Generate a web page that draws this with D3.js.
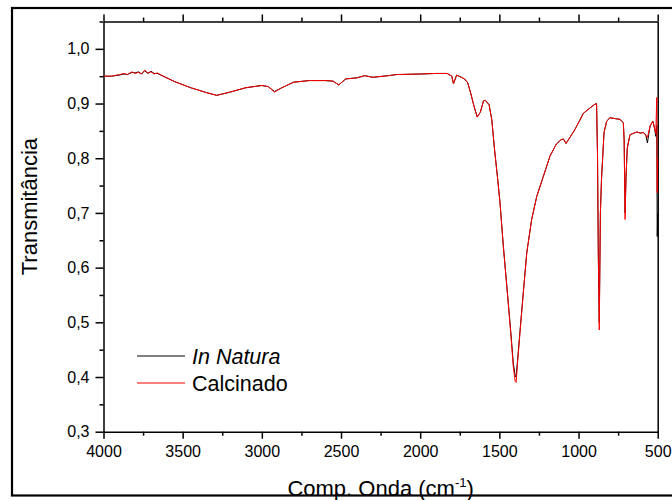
<!DOCTYPE html>
<html>
<head>
<meta charset="utf-8">
<script src="https://cdn.jsdelivr.net/npm/d3@7"></script>
<style>
    html, body { margin: 0; padding: 0; background: #fff; }
    svg { display: block; font-family: "Liberation Sans", Arial, sans-serif; }
    .axis path, .axis line { stroke: #000; stroke-width: 1.5; }
    .axis text { fill: #000; font-size: 16px; }
</style>
</head>
<body>
<svg id="chart" width="672" height="500"></svg>
<script>
// Numero de onda (cm-1)
const waveNumbers = [
    4000, 3950, 3900, 3870, 3850, 3820, 3800, 3780, 3760, 3740, 3720, 3700, 3680, 3660, 3630,
    3550, 3450, 3350, 3285, 3200, 3100, 3000, 2960, 2920, 2880, 2800, 2700, 2600, 2550, 2515,
    2470, 2400, 2350, 2300, 2200, 2150, 2000, 1900, 1830, 1800, 1790, 1770, 1740, 1720, 1700,
    1680, 1660, 1640, 1620, 1600, 1590, 1565, 1548, 1530, 1510, 1496, 1475, 1453, 1428, 1412,
    1400, 1394, 1387, 1370, 1349, 1327, 1296, 1264, 1222, 1180, 1140, 1110, 1095, 1079, 1050,
    1022, 991, 970, 927, 900, 886, 880, 875, 869, 862, 855, 847, 839, 822, 801,
    760, 738, 717, 712, 706, 700, 692, 675, 632, 610, 590, 575, 565, 548, 531,
    520, 512, 506, 503, 500
];

// Transmitancia - In Natura (preto)
const inNatura = [
    0.950, 0.950, 0.952, 0.954, 0.953, 0.957, 0.956, 0.958, 0.954, 0.960, 0.955, 0.959, 0.955, 0.955, 0.951,
    0.940, 0.929, 0.920, 0.915, 0.921, 0.929, 0.933, 0.931, 0.922, 0.928, 0.939, 0.942, 0.942, 0.941, 0.934,
    0.945, 0.947, 0.951, 0.948, 0.951, 0.953, 0.954, 0.955, 0.955, 0.950, 0.936, 0.952, 0.948, 0.945, 0.938,
    0.918, 0.895, 0.876, 0.884, 0.905, 0.906, 0.898, 0.871, 0.815, 0.760, 0.719, 0.640, 0.567, 0.483, 0.425,
    0.402, 0.400, 0.424, 0.483, 0.554, 0.627, 0.688, 0.730, 0.767, 0.804, 0.826, 0.834, 0.835, 0.827, 0.840,
    0.853, 0.870, 0.882, 0.892, 0.898, 0.900, 0.806, 0.622, 0.500, 0.700, 0.762, 0.804, 0.847, 0.868, 0.874,
    0.872, 0.871, 0.865, 0.834, 0.700, 0.767, 0.819, 0.843, 0.848, 0.846, 0.847, 0.842, 0.828, 0.859, 0.868,
    0.855, 0.840, 0.860, 0.657, 0.700
];

// Transmitancia - Calcinado (vermelho)
const calcinado = [
    0.950, 0.950, 0.953, 0.955, 0.953, 0.958, 0.955, 0.957, 0.954, 0.961, 0.956, 0.958, 0.954, 0.956, 0.951,
    0.940, 0.929, 0.920, 0.915, 0.921, 0.929, 0.933, 0.931, 0.921, 0.928, 0.939, 0.942, 0.942, 0.941, 0.934,
    0.945, 0.947, 0.951, 0.948, 0.951, 0.953, 0.954, 0.955, 0.955, 0.950, 0.936, 0.952, 0.948, 0.945, 0.938,
    0.918, 0.895, 0.875, 0.884, 0.905, 0.906, 0.898, 0.871, 0.815, 0.760, 0.719, 0.639, 0.566, 0.480, 0.419,
    0.392, 0.390, 0.419, 0.480, 0.553, 0.627, 0.688, 0.730, 0.767, 0.804, 0.826, 0.834, 0.835, 0.827, 0.840,
    0.853, 0.870, 0.882, 0.892, 0.898, 0.900, 0.804, 0.620, 0.486, 0.700, 0.760, 0.804, 0.847, 0.868, 0.874,
    0.872, 0.871, 0.865, 0.834, 0.688, 0.767, 0.819, 0.843, 0.848, 0.846, 0.847, 0.842, 0.838, 0.859, 0.868,
    0.855, 0.845, 0.911, 0.737, 0.800
];

// Eixos
const xTicks = [4000, 3500, 3000, 2500, 2000, 1500, 1000, 500];
const xMinorTicks = [3750, 3250, 2750, 2250, 1750, 1250, 750];
const yTicks = [0.3, 0.4, 0.5, 0.6, 0.7, 0.8, 0.9, 1.0];
const yMinorTicks = [0.35, 0.45, 0.55, 0.65, 0.75, 0.85, 0.95, 1.05];

const svg = d3.select('#chart');
const plot = { left: 103.5, right: 657.7, top: 21.5, bottom: 431.7 };

const xScale = d3.scaleLinear().domain([4000, 500]).range([plot.left, plot.right]);
const yScale = d3.scaleLinear().domain([0.3, 1.05]).range([plot.bottom, plot.top]);

const fmtY = d => d3.format('.1f')(d).replace('.', ',');

// Eixo Y (esquerda)
svg.append('g')
    .attr('class', 'axis')
    .attr('transform', `translate(${plot.left},0)`)
    .call(d3.axisLeft(yScale).tickValues(yTicks).tickFormat(fmtY).tickSize(8).tickSizeOuter(0).tickPadding(6));
svg.append('g')
    .attr('class', 'axis')
    .attr('transform', `translate(${plot.left},0)`)
    .call(d3.axisLeft(yScale).tickValues(yMinorTicks).tickFormat('').tickSize(4).tickSizeOuter(0))
    .select('.domain').remove();

// Eixo X (baixo)
svg.append('g')
    .attr('class', 'axis')
    .attr('transform', `translate(0,${plot.bottom})`)
    .call(d3.axisBottom(xScale).tickValues(xTicks).tickFormat(d3.format('d')).tickSize(7).tickSizeOuter(0).tickPadding(7));
svg.append('g')
    .attr('class', 'axis')
    .attr('transform', `translate(0,${plot.bottom})`)
    .call(d3.axisBottom(xScale).tickValues(xMinorTicks).tickFormat('').tickSize(4).tickSizeOuter(0))
    .select('.domain').remove();

// Eixo X (topo)
svg.append('g')
    .attr('class', 'axis')
    .attr('transform', `translate(0,${plot.top})`)
    .call(d3.axisTop(xScale).tickValues(xTicks).tickFormat('').tickSize(7).tickSizeOuter(0));
svg.append('g')
    .attr('class', 'axis')
    .attr('transform', `translate(0,${plot.top})`)
    .call(d3.axisTop(xScale).tickValues(xMinorTicks).tickFormat('').tickSize(4).tickSizeOuter(0))
    .select('.domain').remove();

// Eixo Y (direita)
svg.append('g')
    .attr('class', 'axis')
    .attr('transform', `translate(${plot.right},0)`)
    .call(d3.axisRight(yScale).tickValues([]).tickSizeOuter(0));

// Curvas
const line = (values) => d3.line()
    .x((d, i) => xScale(waveNumbers[i]))
    .y(d => yScale(d))(values);

svg.append('path')
    .attr('d', line(inNatura))
    .attr('fill', 'none')
    .attr('stroke', '#000')
    .attr('stroke-width', 1);

svg.append('path')
    .attr('d', line(calcinado))
    .attr('fill', 'none')
    .attr('stroke', '#ff0000')
    .attr('stroke-width', 1);

// Legenda
const legend = svg.append('g').attr('transform', 'translate(137,356)');
legend.append('line').attr('x1', 0).attr('x2', 48).attr('y1', 0).attr('y2', 0)
    .attr('stroke', '#000').attr('stroke-width', 1);
legend.append('text').attr('x', 55).attr('y', 7.5)
    .style('font-size', '21.5px').style('font-style', 'italic').text('In Natura');
legend.append('line').attr('x1', 0).attr('x2', 48).attr('y1', 27).attr('y2', 27)
    .attr('stroke', '#ff0000').attr('stroke-width', 1);
legend.append('text').attr('x', 55).attr('y', 34.5)
    .style('font-size', '21.5px').text('Calcinado');

// Titulos dos eixos
svg.append('text')
    .attr('transform', `translate(37,${(plot.top + plot.bottom) / 2 - 20}) rotate(-90)`)
    .attr('text-anchor', 'middle')
    .style('font-size', '22px')
    .text('Transmitância');

const xLabel = svg.append('text')
    .attr('x', (plot.left + plot.right) / 2)
    .attr('y', 496)
    .attr('text-anchor', 'middle')
    .style('font-size', '22px')
    .text('Comp. Onda (cm');
xLabel.append('tspan').attr('dy', -9).style('font-size', '13px').text('-1');
xLabel.append('tspan').attr('dy', 9).text(')');

// Moldura
svg.append('rect')
    .attr('x', 12).attr('y', 8)
    .attr('width', 680).attr('height', 487.5)
    .attr('fill', 'none')
    .attr('stroke', '#000')
    .attr('stroke-width', 2.2);
</script>
</body>
</html>
